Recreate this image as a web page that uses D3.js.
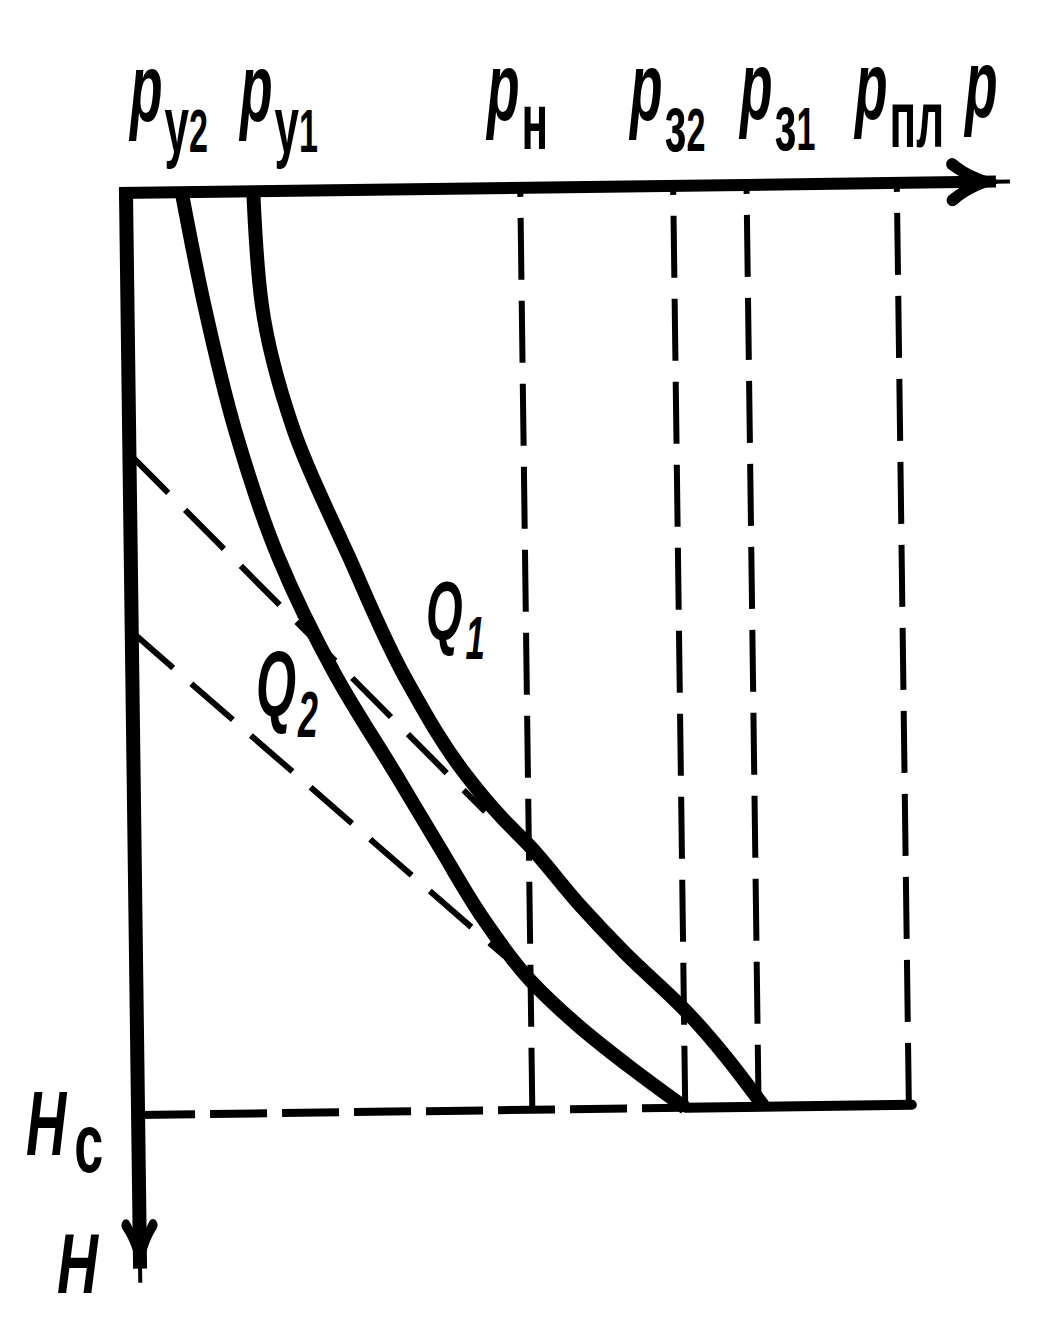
<!DOCTYPE html>
<html>
<head>
<meta charset="utf-8">
<script src="https://cdn.jsdelivr.net/npm/d3@7"></script>
<style>
  html, body { margin: 0; padding: 0; background: #ffffff; }
  svg { display: block; }
</style>
</head>
<body>
<svg id="chart" width="1050" height="1332"></svg>
<script>
// ---------------- DATA (arbitrary units) ----------------
// characteristic pressures along the p axis
const pressureSubs   = ["у2", "у1", "н", "з2", "з1", "пл"];
const pressureValues = [6.3, 14.4, 44.6, 61.9, 70.2, 87.2];
// which of them get a dashed vertical line down to Hc
const verticalKeys   = ["н", "з2", "з1", "пл"];

// well depth Hc (depth axis units) and end of depth axis
const depthHc  = 100;
const depthMax = 118.2;
const pressureMax = 100;

// pressure traverse curve for flow rate Q1
const q1Pressure = [14.4, 15.2, 18.6, 24.6, 31.0, 37.6, 41.6, 44.6, 50.3, 55.2, 62.3, 70.8];
const q1Depth    = [0, 12.3, 25.9, 39.6, 53.2, 63.6, 68.3, 71.3, 77.9, 83.0, 89.7, 100];

// pressure traverse curve for flow rate Q2
const q2Pressure = [6.3, 8.7, 12.0, 16.6, 23.0, 29.7, 34.5, 39.4, 44.5, 50.1, 55.7, 61.9];
const q2Depth    = [0, 12.3, 25.9, 39.5, 52.6, 63.5, 71.4, 79.3, 85.9, 91.1, 95.5, 100];

// dashed straight (single-phase) extensions
const grad1Pressure = [0, 39.7];
const grad1Depth    = [28.3, 67.6];
const grad2Pressure = [0, 41.7];
const grad2Depth    = [47.6, 83.3];

// texts
const mainSymbol  = "p";
const axisPLabel  = "p";
const axisHLabel  = "H";
const hcMain      = "H";
const hcSub       = "с";
const curveNames  = ["Q", "Q"];
const curveSubs   = ["1", "2"];

// ---------------- LAYOUT ----------------
const W = 1050, H = 1332;
const origin = { x: 126, y: 193 };
const tilt = -0.75;                      // scan tilt of the original drawing
const FONT = "'Liberation Sans', Arial, 'DejaVu Sans', sans-serif";
const labelLeft   = [130, 240, 487, 630, 740, 855];   // left x of each p-label
const labelBase   = [121, 121, 120, 120, 119, 119];   // baseline of main 'p'
const labelSubDy  = [31, 31, 29, 31, 31, 28];

const svg = d3.select("#chart");
svg.append("rect").attr("width", W).attr("height", H).attr("fill", "#fff");

const x = d3.scaleLinear().domain([0, pressureMax]).range([0, 884]);
const y = d3.scaleLinear().domain([0, depthHc]).range([0, 922]);

const g = svg.append("g")
  .attr("transform", `translate(${origin.x},${origin.y}) rotate(${tilt})`);

const pv = k => pressureValues[pressureSubs.indexOf(k)];

// dashed verticals (drawn upward from Hc so the dashes touch the Hc line)
verticalKeys.forEach(k => {
  g.append("line")
    .attr("x1", x(pv(k))).attr("y1", y(depthHc))
    .attr("x2", x(pv(k))).attr("y2", y(0))
    .attr("stroke", "#000").attr("stroke-width", 6)
    .attr("stroke-dasharray", "62,21");
});

// dashed gradient lines
[[grad1Pressure, grad1Depth], [grad2Pressure, grad2Depth]].forEach(([ps, ds]) => {
  g.append("line")
    .attr("x1", x(ps[0])).attr("y1", y(ds[0]))
    .attr("x2", x(ps[1])).attr("y2", y(ds[1]))
    .attr("stroke", "#000").attr("stroke-width", 6)
    .attr("stroke-dasharray", "55,24");
});

// Hc line: dashed up to pз2, solid from pз2 to pпл
g.append("line")
  .attr("x1", x(0)).attr("y1", y(depthHc))
  .attr("x2", x(pv("з2"))).attr("y2", y(depthHc))
  .attr("stroke", "#000").attr("stroke-width", 8)
  .attr("stroke-dasharray", "57,15");
g.append("line")
  .attr("x1", x(pv("з2"))).attr("y1", y(depthHc))
  .attr("x2", x(pv("пл")) + 3).attr("y2", y(depthHc))
  .attr("stroke", "#000").attr("stroke-width", 10)
  .attr("stroke-linecap", "round");

// curves
const line = d3.line()
  .x(d => x(d[0])).y(d => y(d[1]))
  .curve(d3.curveMonotoneY);
[[q1Pressure, q1Depth], [q2Pressure, q2Depth]].forEach(([ps, ds]) => {
  g.append("path")
    .attr("d", line(ps.map((p, i) => [p, ds[i]])))
    .attr("fill", "none").attr("stroke", "#000")
    .attr("stroke-width", 14).attr("stroke-linejoin", "round");
});

// axes
g.append("line")
  .attr("x1", -7).attr("y1", 0).attr("x2", x(pressureMax) - 14).attr("y2", 0)
  .attr("stroke", "#000").attr("stroke-width", 12);
g.append("line")
  .attr("x1", x(pressureMax) - 16).attr("y1", 0).attr("x2", x(pressureMax)).attr("y2", 0)
  .attr("stroke", "#000").attr("stroke-width", 4);
g.append("line")
  .attr("x1", 0).attr("y1", -6).attr("x2", 0).attr("y2", y(depthMax) - 14)
  .attr("stroke", "#000").attr("stroke-width", 14);
g.append("line")
  .attr("x1", 0).attr("y1", y(depthMax) - 16).attr("x2", 0).attr("y2", y(depthMax))
  .attr("stroke", "#000").attr("stroke-width", 4);

// barbed arrowheads
const arrowPath = "M-8,0 C-20,-4 -38,-10 -50,-21 C-55,-25 -60,-20 -57,-15 " +
                  "C-48,-8 -40,-4 -34,0 C-40,4 -48,8 -57,15 C-60,20 -55,25 -50,21 " +
                  "C-38,10 -20,4 -8,0 Z";
g.append("path").attr("d", arrowPath)
  .attr("transform", `translate(${x(pressureMax) - 4},0)`)
  .attr("fill", "#000").attr("stroke", "#000").attr("stroke-width", 3);
g.append("path").attr("d", arrowPath)
  .attr("transform", `translate(0,${y(depthMax) - 4}) rotate(90) scale(1,0.75)`)
  .attr("fill", "#000").attr("stroke", "#000").attr("stroke-width", 3);

// ---------------- LABELS ----------------
function label(px, py, main, sub, cfg) {
  const lg = svg.append("g").attr("transform", `translate(${px},${py})`);
  const t = lg.append("text")
    .attr("transform", `scale(${cfg.sx},1)`)
    .attr("font-family", FONT).attr("font-weight", "bold").attr("fill", "#000");
  t.append("tspan")
    .attr("font-size", cfg.mainSize).attr("font-style", "italic").text(main);
  if (sub) {
    let first = true;
    sub.match(/\d+|\D+/g).forEach(chunk => {
      const isDigit = /\d/.test(chunk);
      const ts = t.append("tspan")
        .attr("font-size", isDigit ? cfg.digitSize : cfg.letterSize)
        .attr("font-style", cfg.subItalic ? "italic" : "normal")
        .text(chunk);
      if (first) {
        ts.attr("dy", cfg.subDy).attr("dx", (cfg.subDx || 0) / cfg.sx);
        first = false;
      }
    });
  }
}

const pCfg = { sx: 0.55, mainSize: 97, letterSize: 80, digitSize: 62, subItalic: false };
pressureSubs.forEach((s, i) => {
  label(labelLeft[i], labelBase[i], mainSymbol, s,
        Object.assign({}, pCfg, { subDy: labelSubDy[i], subDx: 2 }));
});
label(965, 117, axisPLabel, null, pCfg);

// curve labels
label(426, 640, curveNames[0], curveSubs[0],
      { sx: 0.56, mainSize: 84, letterSize: 62, digitSize: 62, subItalic: true, subDy: 19, subDx: 3 });
label(256, 716, curveNames[1], curveSubs[1],
      { sx: 0.56, mainSize: 92, letterSize: 64, digitSize: 64, subItalic: true, subDy: 21, subDx: 2 });

// depth labels
label(26, 1155, hcMain, hcSub,
      { sx: 0.62, mainSize: 90, letterSize: 84, digitSize: 84, subItalic: false, subDy: 17, subDx: 8 });
label(57, 1293, axisHLabel, null,
      { sx: 0.66, mainSize: 86 });
</script>
</body>
</html>
